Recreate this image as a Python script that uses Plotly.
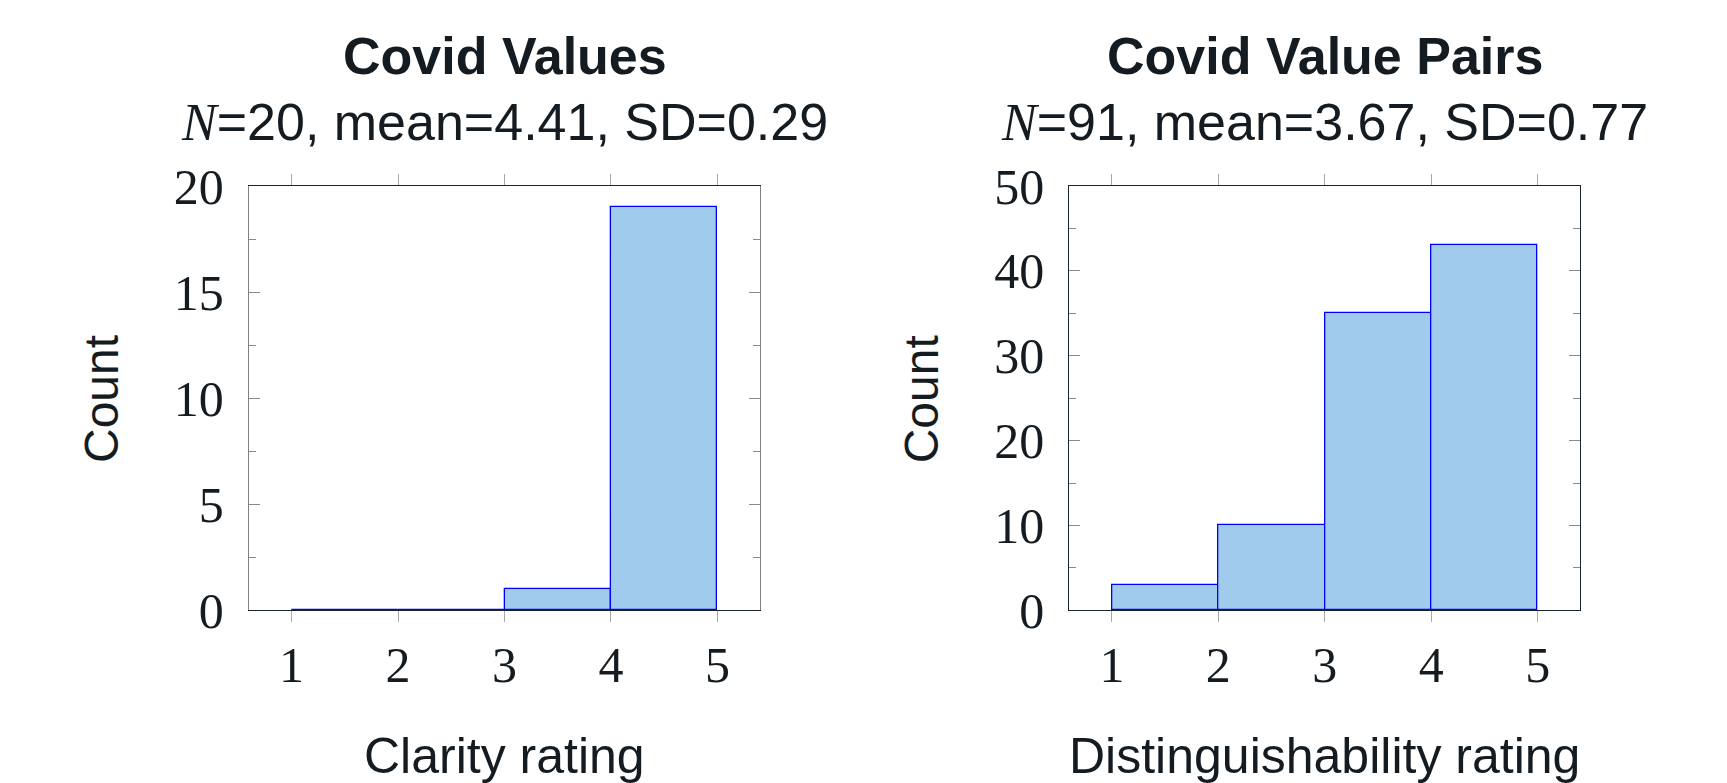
import plotly.graph_objects as go

# ---- data ----
bin_edges = [1, 2, 3, 4, 5]
clarity_counts = [0, 0, 1, 19]
distinct_counts = [3, 10, 35, 43]
x_ticks = [1, 2, 3, 4, 5]
left_yticks = [0, 5, 10, 15, 20]
right_yticks = [0, 10, 20, 30, 40, 50]
titles = ["Covid Values", "Covid Value Pairs"]
subtitles = [
    "<span style='font-family:Liberation Serif'><i>N</i></span>=20, mean=4.41, SD=0.29",
    "<span style='font-family:Liberation Serif'><i>N</i></span>=91, mean=3.67, SD=0.77",
]
x_titles = ["Clarity rating", "Distinguishability rating"]
y_title = "Count"

W, H = 1727, 783
OFF = 8  # page body margin offset compensation (px)
TXT = "#141c22"
SANS = "Liberation Sans"
SERIF = "Liberation Serif"
FILL = "rgb(160,203,237)"
EDGE = "#0000ff"

centers = [(a + b) / 2 for a, b in zip(bin_edges[:-1], bin_edges[1:])]
widths = [b - a for a, b in zip(bin_edges[:-1], bin_edges[1:])]

fig = go.Figure()

def px_x(v):
    return (v - OFF) / W

def px_y(v):
    return 1 - (v - OFF) / H

panels = [
    dict(counts=clarity_counts, xa="x", ya="y", dom=(249, 760), yt=left_yticks,
         ymax=20, minor=2.5, ylc="#7d8084"),
    dict(counts=distinct_counts, xa="x2", ya="y2", dom=(1069.3, 1580.3), yt=right_yticks,
         ymax=50, minor=5, ylc="#1b242b"),
]

for i, p in enumerate(panels):
    fig.add_trace(go.Bar(
        x=centers, y=p["counts"], width=widths,
        marker=dict(color=FILL, line=dict(color=EDGE, width=1.3)),
        xaxis=p["xa"], yaxis=p["ya"], showlegend=False,
    ))
    # zero-count bins drawn as a flat outline, like the source
    for c, w, n in zip(centers, widths, p["counts"]):
        if n == 0:
            fig.add_trace(go.Scatter(
                x=[c - w / 2, c + w / 2], y=[n, n], mode="lines",
                line=dict(color=EDGE, width=1.6), cliponaxis=False,
                xaxis=p["xa"], yaxis=p["ya"], showlegend=False, hoverinfo="skip",
            ))

axis_common_x = dict(
    range=[0.6, 5.4], tickvals=x_ticks, ticks="outside", ticklen=11, tickwidth=1.3,
    tickcolor="#a8a8a8", showline=True, linecolor="#1b242b", linewidth=1.3,
    mirror="allticks", showgrid=False, zeroline=False, automargin=False,
    tickfont=dict(family=SERIF, size=50, color=TXT), ticklabelstandoff=0,
)

layout = dict(
    width=W, height=H, margin=dict(l=0, r=0, t=0, b=0, pad=0, autoexpand=False),
    paper_bgcolor="white", plot_bgcolor="white", bargap=0,
)

for i, p in enumerate(panels):
    suffix = "" if i == 0 else str(i + 1)
    layout["xaxis" + suffix] = dict(
        axis_common_x, domain=[px_x(p["dom"][0]), px_x(p["dom"][1])],
        anchor="y" + suffix,
    )
    layout["yaxis" + suffix] = dict(
        range=[0, p["ymax"]], tickvals=p["yt"], ticks="inside", ticklen=11, tickwidth=1.3,
        tickcolor="#8a8a8a", showline=True, linecolor=p["ylc"], linewidth=1.3,
        mirror="allticks", showgrid=False, zeroline=False, automargin=False,
        minor=dict(dtick=p["minor"], tick0=0, ticks="inside", ticklen=7,
                   tickcolor="#8a8a8a", tickwidth=1.3),
        domain=[px_y(610.3), px_y(186)], anchor="x" + suffix,
        tickfont=dict(family=SERIF, size=50, color=TXT), ticklabelstandoff=14,
    )

fig.update_layout(**layout)

ann = []
for i, p in enumerate(panels):
    cx = px_x((p["dom"][0] + p["dom"][1]) / 2)
    ann.append(dict(x=cx, y=px_y(56), xref="paper", yref="paper", text="<b>%s</b>" % titles[i],
                    showarrow=False, xanchor="center", yanchor="middle",
                    font=dict(family=SANS, size=52, color=TXT)))
    ann.append(dict(x=cx, y=px_y(122), xref="paper", yref="paper", text=subtitles[i],
                    showarrow=False, xanchor="center", yanchor="middle",
                    font=dict(family=SANS, size=52, color=TXT)))
    ann.append(dict(x=cx, y=px_y(756), xref="paper", yref="paper", text=x_titles[i],
                    showarrow=False, xanchor="center", yanchor="middle",
                    font=dict(family=SANS, size=50, color=TXT)))
    ann.append(dict(x=px_x(p["dom"][0] - 147), y=px_y(399), xref="paper", yref="paper",
                    text=y_title, textangle=-90,
                    showarrow=False, xanchor="center", yanchor="middle",
                    font=dict(family=SANS, size=48, color=TXT)))
fig.update_layout(annotations=ann)

fig.write_html("out.html")
